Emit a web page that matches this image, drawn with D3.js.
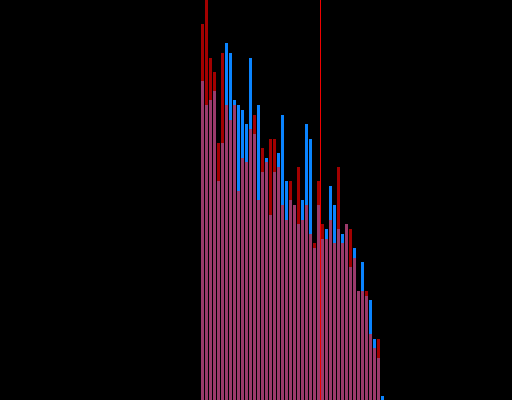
<!DOCTYPE html>
<html>
<head>
<meta charset="utf-8">
<script src="https://cdn.jsdelivr.net/npm/d3@7"></script>
<style>
  html, body { margin: 0; padding: 0; background: #000; }
  #chart { width: 512px; height: 400px; }
</style>
</head>
<body>
<div id="chart"></div>
<script>
// paired bars, red series over blue series, overlap in pink
const redValues = [376, 420, 342, 328, 257, 347, 295, 280, 295, 209, 242, 238, 271, 285, 200, 252,
  238, 261, 261, 233, 195, 180, 219, 195, 233, 180, 195, 166, 157, 219, 176, 161,
  180, 157, 233, 157, 176, 171, 142, 109, 109, 109, 66, 52, 61, 0];
const blueValues = [319, 295, 300, 309, 219, 257, 357, 347, 300, 295, 290, 276, 342, 266, 295, 228,
  242, 185, 228, 247, 285, 219, 200, 195, 176, 200, 276, 261, 152, 195, 161, 171,
  214, 195, 171, 166, 176, 133, 152, 109, 138, 104, 100, 61, 42, 4];
const markerIndex = 30;

(function() {
  const container = document.getElementById('chart');
  const width = 512;
  const height = 400;

  const data = redValues.map((r, i) => ({ i: i, red: r, blue: blueValues[i] }));

  const svg = d3.select(container)
    .append("svg")
    .attr("width", width)
    .attr("height", height)
    .style("display", "block")
    .style("background", "#000");

  const x = d3.scaleBand()
    .domain(data.map(d => d.i))
    .range([201, 384])
    .paddingInner(0.25)
    .paddingOuter(0);

  const y = d3.scaleLinear()
    .domain([0, 400])
    .range([height, 0]);

  const bars = svg.selectAll(".bar-group")
    .data(data)
    .enter()
    .append("g")
    .attr("class", "bar-group");

  bars.append("rect")
    .attr("x", d => x(d.i))
    .attr("width", x.bandwidth())
    .attr("y", d => y(d.blue))
    .attr("height", d => y(0) - y(d.blue))
    .attr("fill", "#0a84ff");

  bars.append("rect")
    .attr("x", d => x(d.i))
    .attr("width", x.bandwidth())
    .attr("y", d => y(d.red))
    .attr("height", d => y(0) - y(d.red))
    .attr("fill", "#a30000");

  bars.append("rect")
    .attr("x", d => x(d.i))
    .attr("width", x.bandwidth())
    .attr("y", d => y(Math.min(d.red, d.blue)))
    .attr("height", d => y(0) - y(Math.min(d.red, d.blue)))
    .attr("fill", "#9b3a6b");

  // vertical marker line
  const mx = x(markerIndex) - 0.5;
  svg.append("line")
    .attr("x1", mx)
    .attr("x2", mx)
    .attr("y1", 0)
    .attr("y2", height)
    .attr("stroke", "#ee0000")
    .attr("stroke-width", 1);
})();
</script>
</body>
</html>
